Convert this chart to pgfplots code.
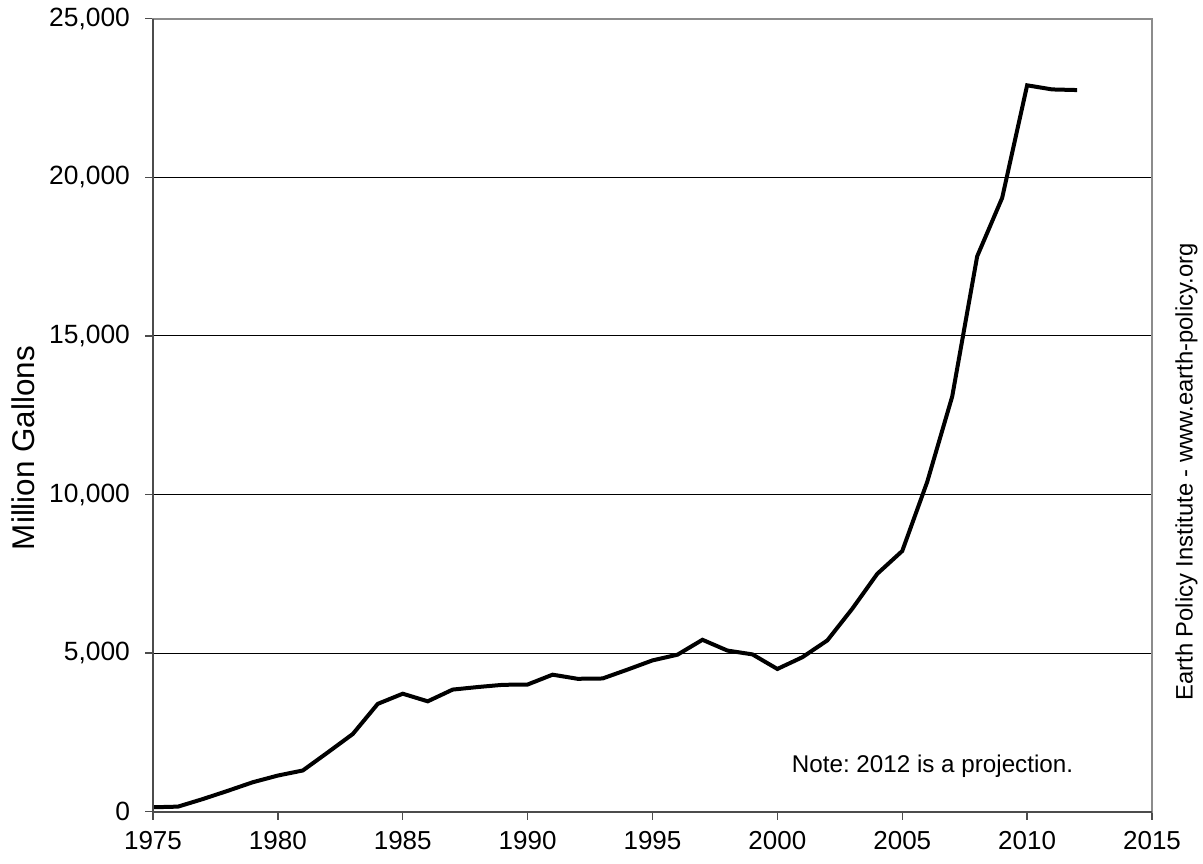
\documentclass[border=0pt]{standalone}
\usepackage{pgfplots}
\pgfplotsset{compat=1.18}
\usepackage{fontspec}
\setmainfont{Liberation Sans}
\frenchspacing
\begin{document}
\begin{tikzpicture}
\begin{axis}[
  name=ax,
  scale only axis, width=499.5pt, height=396.5pt,
  xmin=1975, xmax=2015, ymin=0, ymax=25000,
  xtick={1975,1980,...,2015}, ytick={0,5000,...,25000},
  ymajorgrids, grid style={black, line width=0.5pt},
  axis line style={draw=black!45, line width=1pt},
  tick style={black!70, line width=0.7pt},
  tick align=outside, major tick length=4pt,
  xtick pos=bottom, ytick pos=left,
  scaled y ticks=false,
  /pgf/number format/assume math mode=true,
  x tick label style={/pgf/number format/1000 sep={}, font=\fontsize{13}{15}\selectfont, yshift=-2.5pt},
  y tick label style={/pgf/number format/1000 sep={,}, font=\fontsize{13.2}{15}\selectfont, xshift=-4pt},
  clip=false,
]
\addplot[black, line width=2pt] coordinates {
(1975,140) (1976,160) (1977,400) (1978,660) (1979,930) (1980,1140)
(1981,1300) (1982,1870) (1983,2450) (1984,3400) (1985,3720) (1986,3480)
(1987,3850) (1988,3930) (1989,4000) (1990,4010) (1991,4320) (1992,4190)
(1993,4200) (1994,4480) (1995,4770) (1996,4950) (1997,5420) (1998,5080)
(1999,4960) (2000,4500) (2001,4870) (2002,5400) (2003,6400) (2004,7500)
(2005,8220) (2006,10400) (2007,13090) (2008,17510) (2009,19350) (2010,22900)
(2011,22770) (2012,22750)
};
\draw[black!70, line width=1pt] (rel axis cs:0,1) -- (rel axis cs:0,0) -- (rel axis cs:1,0);
\node[font=\fontsize{12.1}{15}\selectfont, anchor=center] at (rel axis cs:0.7803,0.0569) {Note: 2012 is a projection.};
\node[rotate=90, font=\fontsize{15.7}{18}\selectfont, anchor=center] at ([xshift=-65pt]rel axis cs:0,0.4586) {Million Gallons};
\node[rotate=90, font=\fontsize{11.9}{14}\selectfont, anchor=center] at ([xshift=17.25pt]rel axis cs:1,0.4284) {Earth Policy Institute - www.earth-policy.org};
\end{axis}
\pgfresetboundingbox
\path[use as bounding box] ([xshift=-76.5pt,yshift=-25.65pt]ax.south west) rectangle ([xshift=25.5pt,yshift=9.35pt]ax.north east);
\end{tikzpicture}
\end{document}
